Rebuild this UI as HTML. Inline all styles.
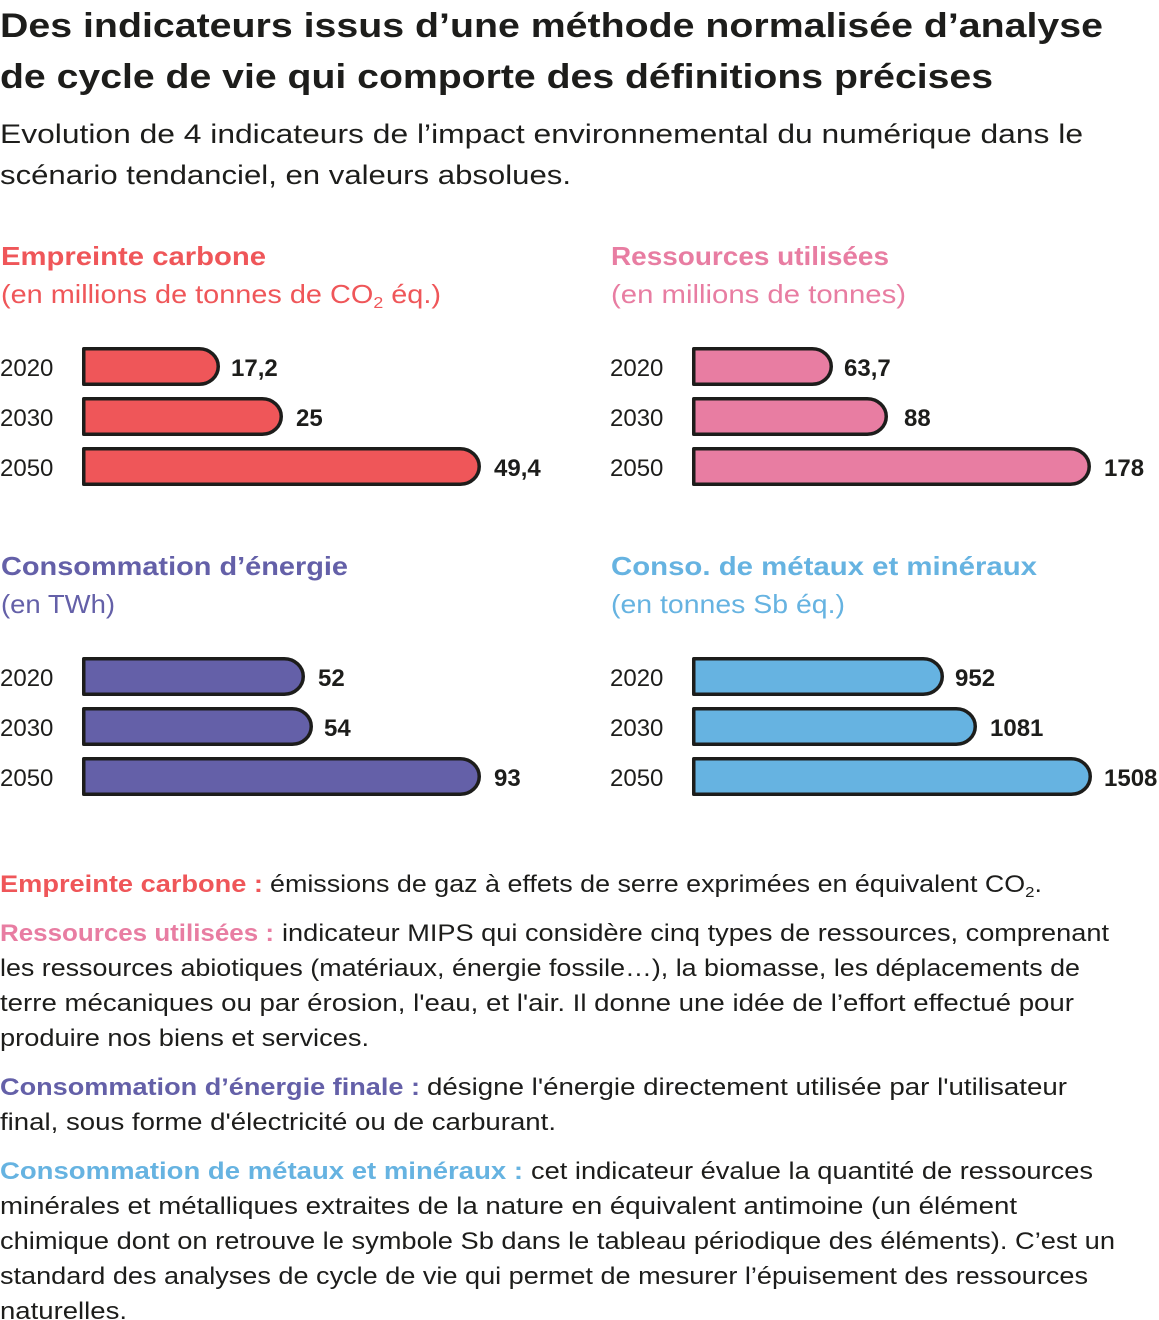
<!DOCTYPE html>
<html lang="fr">
<head>
<meta charset="utf-8">
<style>
  html,body{margin:0;padding:0;background:#fff;}
  svg{display:block;}
  text{font-family:"Liberation Sans","DejaVu Sans",sans-serif;}
  .b{font-weight:bold;}
  .k{fill:#1d1d1b;}
</style>
</head>
<body>
<svg width="1159" height="1320" viewBox="0 0 1159 1320" xmlns="http://www.w3.org/2000/svg">
  <!-- Title -->
  <text class="b k" x="0" y="37" font-size="34" textLength="1103" lengthAdjust="spacingAndGlyphs">Des indicateurs issus d’une méthode normalisée d’analyse</text>
  <text class="b k" x="0" y="88" font-size="34" textLength="993" lengthAdjust="spacingAndGlyphs">de cycle de vie qui comporte des définitions précises</text>
  <!-- Subtitle -->
  <text class="k" x="0" y="143" font-size="27" textLength="1083" lengthAdjust="spacingAndGlyphs">Evolution de 4 indicateurs de l’impact environnemental du numérique dans le</text>
  <text class="k" x="0" y="184" font-size="27" textLength="571" lengthAdjust="spacingAndGlyphs">scénario tendanciel, en valeurs absolues.</text>

  <!-- Headings -->
  <text class="b" x="1" y="265" font-size="26" fill="#ef5659" textLength="265" lengthAdjust="spacingAndGlyphs">Empreinte carbone</text>
  <text x="1" y="303" font-size="26" fill="#ef5659" textLength="440" lengthAdjust="spacingAndGlyphs">(en millions de tonnes de CO<tspan font-size="16" dy="5">2</tspan><tspan dy="-5"> éq.)</tspan></text>

  <text class="b" x="611" y="265" font-size="26" fill="#e87da2" textLength="278" lengthAdjust="spacingAndGlyphs">Ressources utilisées</text>
  <text x="611" y="303" font-size="26" fill="#e87da2" textLength="295" lengthAdjust="spacingAndGlyphs">(en millions de tonnes)</text>

  <text class="b" x="1" y="575" font-size="26" fill="#6460a8" textLength="347" lengthAdjust="spacingAndGlyphs">Consommation d’énergie</text>
  <text x="1" y="613" font-size="26" fill="#6460a8" textLength="114" lengthAdjust="spacingAndGlyphs">(en TWh)</text>

  <text class="b" x="611" y="575" font-size="26" fill="#66b3e1" textLength="426" lengthAdjust="spacingAndGlyphs">Conso. de métaux et minéraux</text>
  <text x="611" y="613" font-size="26" fill="#66b3e1" textLength="234" lengthAdjust="spacingAndGlyphs">(en tonnes Sb éq.)</text>

  <!-- Bars: stroke 3.5, outer height 39 -->
  <g stroke="#1d1d1b" stroke-width="3.5" stroke-linejoin="round">
    <!-- Red -->
    <path fill="#ef5659" d="M83.75 348.75 H199.25 A19 17.75 0 0 1 199.25 384.25 H83.75 Z"/>
    <path fill="#ef5659" d="M83.75 398.75 H262.25 A19 17.75 0 0 1 262.25 434.25 H83.75 Z"/>
    <path fill="#ef5659" d="M83.75 448.75 H460.25 A19 17.75 0 0 1 460.25 484.25 H83.75 Z"/>
    <!-- Pink -->
    <path fill="#e87da2" d="M693.75 348.75 H812.25 A19 17.75 0 0 1 812.25 384.25 H693.75 Z"/>
    <path fill="#e87da2" d="M693.75 398.75 H867.25 A19 17.75 0 0 1 867.25 434.25 H693.75 Z"/>
    <path fill="#e87da2" d="M693.75 448.75 H1070.25 A19 17.75 0 0 1 1070.25 484.25 H693.75 Z"/>
    <!-- Purple -->
    <path fill="#6460a8" d="M83.75 658.75 H284.25 A19 17.75 0 0 1 284.25 694.25 H83.75 Z"/>
    <path fill="#6460a8" d="M83.75 708.75 H292.25 A19 17.75 0 0 1 292.25 744.25 H83.75 Z"/>
    <path fill="#6460a8" d="M83.75 758.75 H460.25 A19 17.75 0 0 1 460.25 794.25 H83.75 Z"/>
    <!-- Blue -->
    <path fill="#66b3e1" d="M693.75 658.75 H923.25 A19 17.75 0 0 1 923.25 694.25 H693.75 Z"/>
    <path fill="#66b3e1" d="M693.75 708.75 H956.25 A19 17.75 0 0 1 956.25 744.25 H693.75 Z"/>
    <path fill="#66b3e1" d="M693.75 758.75 H1071.25 A19 17.75 0 0 1 1071.25 794.25 H693.75 Z"/>
  </g>

  <!-- Year labels -->
  <g class="k" font-size="24">
    <text x="0" y="376">2020</text>
    <text x="0" y="426">2030</text>
    <text x="0" y="476">2050</text>
    <text x="610" y="376">2020</text>
    <text x="610" y="426">2030</text>
    <text x="610" y="476">2050</text>
    <text x="0" y="686">2020</text>
    <text x="0" y="736">2030</text>
    <text x="0" y="786">2050</text>
    <text x="610" y="686">2020</text>
    <text x="610" y="736">2030</text>
    <text x="610" y="786">2050</text>
  </g>

  <!-- Value labels -->
  <g class="b k" font-size="24">
    <text x="231" y="376">17,2</text>
    <text x="296" y="426">25</text>
    <text x="494" y="476">49,4</text>
    <text x="844" y="376">63,7</text>
    <text x="904" y="426">88</text>
    <text x="1104" y="476">178</text>
    <text x="318" y="686">52</text>
    <text x="324" y="736">54</text>
    <text x="494" y="786">93</text>
    <text x="955" y="686">952</text>
    <text x="990" y="736">1081</text>
    <text x="1104" y="786">1508</text>
  </g>

  <!-- Definitions -->
  <g font-size="24">
    <text class="b" x="0" y="892" fill="#ef5659" textLength="263" lengthAdjust="spacingAndGlyphs">Empreinte carbone :</text>
    <text class="k" x="270" y="892" textLength="772" lengthAdjust="spacingAndGlyphs">émissions de gaz à effets de serre exprimées en équivalent CO<tspan font-size="15" dy="5">2</tspan><tspan dy="-5">.</tspan></text>

    <text class="b" x="0" y="941" fill="#e87da2" textLength="274" lengthAdjust="spacingAndGlyphs">Ressources utilisées :</text>
    <text class="k" x="282" y="941" textLength="827" lengthAdjust="spacingAndGlyphs">indicateur MIPS qui considère cinq types de ressources, comprenant</text>
    <text class="k" x="0" y="976" textLength="1080" lengthAdjust="spacingAndGlyphs">les ressources abiotiques (matériaux, énergie fossile…), la biomasse, les déplacements de</text>
    <text class="k" x="0" y="1011" textLength="1074" lengthAdjust="spacingAndGlyphs">terre mécaniques ou par érosion, l'eau, et l'air. Il donne une idée de l’effort effectué pour</text>
    <text class="k" x="0" y="1046" textLength="369" lengthAdjust="spacingAndGlyphs">produire nos biens et services.</text>

    <text class="b" x="0" y="1095" fill="#6460a8" textLength="420" lengthAdjust="spacingAndGlyphs">Consommation d’énergie finale :</text>
    <text class="k" x="427" y="1095" textLength="640" lengthAdjust="spacingAndGlyphs">désigne l'énergie directement utilisée par l'utilisateur</text>
    <text class="k" x="0" y="1130" textLength="556" lengthAdjust="spacingAndGlyphs">final, sous forme d'électricité ou de carburant.</text>

    <text class="b" x="0" y="1179" fill="#66b3e1" textLength="523" lengthAdjust="spacingAndGlyphs">Consommation de métaux et minéraux :</text>
    <text class="k" x="531" y="1179" textLength="562" lengthAdjust="spacingAndGlyphs">cet indicateur évalue la quantité de ressources</text>
    <text class="k" x="0" y="1214" textLength="1017" lengthAdjust="spacingAndGlyphs">minérales et métalliques extraites de la nature en équivalent antimoine (un élément</text>
    <text class="k" x="0" y="1249" textLength="1115" lengthAdjust="spacingAndGlyphs">chimique dont on retrouve le symbole Sb dans le tableau périodique des éléments). C’est un</text>
    <text class="k" x="0" y="1284" textLength="1088" lengthAdjust="spacingAndGlyphs">standard des analyses de cycle de vie qui permet de mesurer l’épuisement des ressources</text>
    <text class="k" x="0" y="1319" textLength="127" lengthAdjust="spacingAndGlyphs">naturelles.</text>
  </g>
</svg>
</body>
</html>
